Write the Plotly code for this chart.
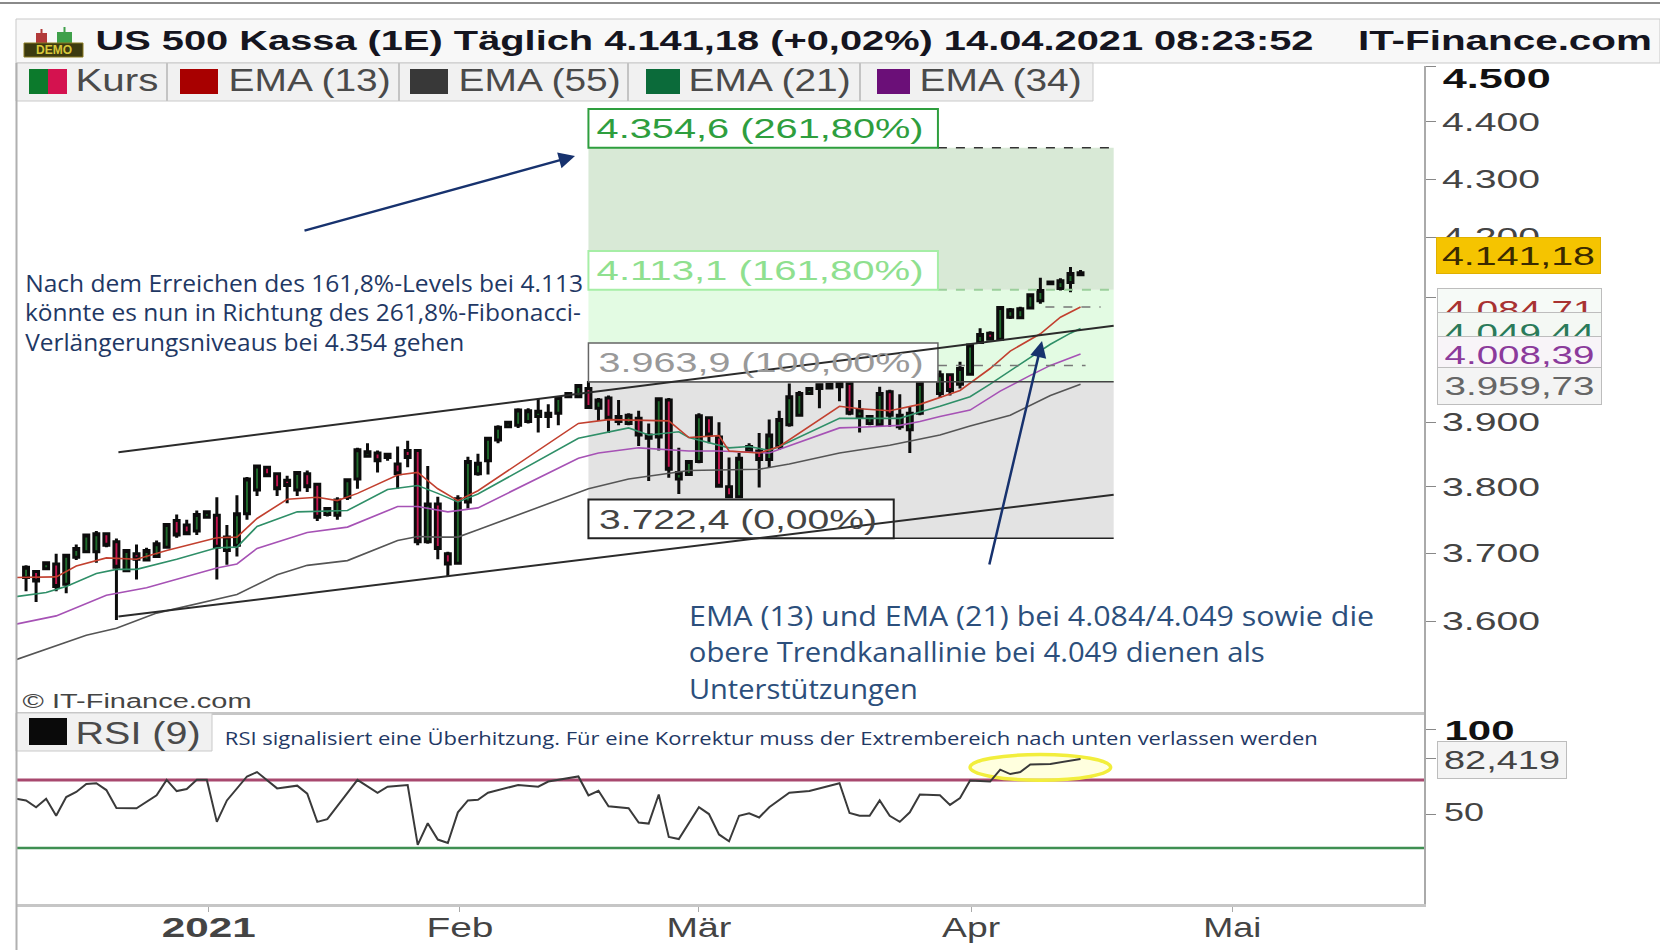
import json
import math
import plotly.graph_objects as go

# ---------- data ----------
bar_open = [3664,3673,3677,3684,3654,3694,3702,3702,3729,3717,
            3674,3699,3690,3695,3709,3749,3742,3733,3754,3757,
            3704,3712,3759,3795,3830,3820,3810,3795,3820,3804,
            3758,3757,3784,3812,3847,3852,3845,3835,3856,3856,
            3717,3774,3699,3685,3777,3820,3840,3872,3893,3895,
            3901,3909,3909,3914,3940,3940,3953,3922,3938,3901,
            3898,3906,3875,3877,3935,3812,3819,3839,3907,3877,
            3800,3785,3855,3855,3842,3862,3896,3911,3945,3953,
            3954,3956,3961,3909,3898,3896,3948,3893,3888,3914,
            3975,3945,3975,3960,3976,4027,4042,4032,4068,4067,
            4083,4095,4123,4115,4125,4138]
bar_high = [3682,3674,3688,3699,3698,3713,3727,3733,3731,3722,
            3705,3713,3708,3719,3744,3758,3750,3764,3763,3784,
            3742,3787,3815,3834,3831,3822,3817,3824,3825,3806,
            3769,3784,3812,3860,3867,3856,3852,3862,3871,3857,
            3832,3785,3702,3787,3846,3851,3877,3895,3902,3922,
            3922,3937,3928,3940,3945,3960,3965,3938,3942,3935,
            3914,3918,3898,3938,3938,3860,3840,3914,3909,3900,
            3845,3852,3867,3883,3904,3918,3961,3949,3954,3961,
            3961,3964,3964,3935,3911,3956,3951,3944,3925,3964,
            4000,3982,3977,3996,4025,4050,4045,4085,4083,4085,
            4107,4133,4127,4132,4151,4146]
bar_low = [3644,3628,3675,3644,3641,3690,3700,3686,3709,3602,
           3673,3661,3689,3694,3707,3723,3728,3727,3752,3661,
           3683,3695,3750,3786,3816,3786,3775,3786,3792,3748,
           3755,3750,3780,3797,3845,3822,3840,3797,3830,3712,
           3714,3691,3665,3684,3767,3817,3819,3867,3891,3891,
           3898,3884,3891,3895,3940,3939,3922,3902,3883,3895,
           3895,3863,3809,3856,3814,3789,3818,3836,3867,3799,
           3784,3784,3852,3799,3829,3857,3893,3910,3943,3922,
           3953,3933,3911,3884,3895,3895,3893,3888,3852,3911,
           3970,3938,3942,3953,3974,4025,4030,4030,4065,4065,
           4082,4090,4122,4112,4109,4136.5]
bar_close = [3679,3659,3686,3651,3697,3707,3727,3729,3712,3679,
             3704,3691,3704,3714,3743,3727,3729,3758,3762,3709,
             3724,3759,3812,3832,3817,3797,3802,3822,3800,3754,
             3767,3780,3811,3857,3854,3840,3850,3820,3845,3717,
             3774,3707,3684,3782,3839,3836,3875,3892,3900,3919,
             3918,3917,3914,3939,3945,3958,3923,3935,3906,3909,
             3911,3880,3880,3937,3827,3822,3839,3910,3880,3801,
             3785,3844,3862,3842,3880,3904,3940,3945,3953,3959,
             3960,3961,3914,3919,3909,3945,3911,3911,3914,3961,
             3995,3975,3950,3985,4023,4040,4032,4084,4080,4082,
             4105,4112,4126,4128,4140,4141.18]

ema13_x = [-1,3,5,8,11,14,19,21,23,26,29,31,33,37,39,41,43,45,55,58,64,66,69,70,73,75,81,83,86,89,93,96,98,101,103,105]
ema13_y = [3664,3665,3681,3693,3691,3704,3723,3724,3752,3781,3784,3779,3790,3818,3822,3797,3779,3794,3898,3904,3902,3876,3879,3855,3852,3862,3925,3921,3918,3928,3950,3985,4013,4041,4068,4084.71]
ema21_x = [-1,2,4,7,9,11,15,19,21,23,27,29,32,36,39,41,43,45,55,60,62,65,66,70,72,74,75,81,83,87,89,91,94,96,99,102,104,105]
ema21_y = [3636,3642,3651,3670,3676,3676,3691,3708,3709,3740,3762,3763,3764,3796,3802,3790,3777,3789,3875,3891,3880,3885,3876,3860,3862,3856,3862,3906,3906,3906,3916,3925,3940,3960,3992,4024,4042,4049.44]
ema34_x = [-1,3,8,12,19,21,23,28,32,37,39,42,45,55,57,61,66,69,74,81,83,87,89,91,94,97,100,102,105]
ema34_y = [3596,3608,3638,3649,3678,3684,3707,3731,3739,3770,3770,3762,3768,3844,3852,3860,3855,3855,3852,3891,3892,3895,3901,3909,3919,3949,3974,3990,4008.39]
ema55_x = [-1,6,9,13,21,25,28,32,37,39,41,43,45,56,60,66,73,76,81,86,91,94,98,100,102,105]
ema55_y = [3545,3580,3590,3612,3639,3668,3682,3689,3719,3725,3724,3724,3735,3797,3812,3825,3827,3835,3852,3864,3880,3894,3911,3927,3942,3959.73]

rsi_x = [-1,0,1,2,3,4,5,6,7,8,9,11,13,14,15,16,17,18,19,20,22,23,25,27,28,29,30,33,35,36,38,39,40,41,42,43,44,45,46,49,51,52,55,56,57,58,60,61,62,63,64,65,67,68,69,70,71,72,73,74,76,78,81,82,83,84,85,86,87,88,89,91,92,93,94,96,97,98,99,100,102,105]
rsi_y = [59.0,58.0,54.0,59.0,49.0,60.0,63.0,67.7,68.1,64.1,53.6,53.4,61.0,70.1,63.5,64.7,70.1,70.1,45.4,58.0,72.1,74.7,65.1,66.7,62.0,45.4,47.0,70.1,62.5,66.1,67.1,31.9,44.6,35.0,33.0,51.0,58.0,58.4,62.5,67.1,66.1,69.1,72.1,61.0,63.7,54.6,53.4,45.0,44.4,61.5,36.5,35.3,54.0,50.0,38.0,34.0,49.0,50.4,48.0,54.0,62.5,63.5,68.1,50.6,49.0,49.0,58.0,49.0,45.4,51.0,61.5,61.0,55.4,59.4,69.7,69.1,76.1,73.5,74.7,79.1,79.5,82.419]

x_tick_pos = [18.2, 43.2, 67, 94.1, 120.1]
x_tick_txt = ["<b>2021</b>", "Feb", "Mär", "Apr", "Mai"]
price_ticks = [4500, 4400, 4300, 4200, 4100, 3900, 3800, 3700, 3600]
price_text = ["", "4.400", "4.300", "4.200", "4.100", "3.900", "3.800", "3.700", "3.600"]
fib_levels = [3722.4, 3963.9, 4113.1, 4354.6]
upper_trend_x, upper_trend_y = [9.2, 108.3], [3853, 4054]
lower_trend_x, lower_trend_y = [9.2, 108.3], [3607, 3788]

note1_lines = ["Nach dem Erreichen des 161,8%-Levels bei 4.113",
               "könnte es nun in Richtung des 261,8%-Fibonacci-",
               "Verlängerungsniveaus bei 4.354 gehen"]
note2_lines = ["EMA (13) und EMA (21) bei 4.084/4.049 sowie die",
               "obere Trendkanallinie bei 4.049 dienen als",
               "Unterstützungen"]
rsi_note = "RSI signalisiert eine Überhitzung. Für eine Korrektur muss der Extrembereich nach unten verlassen werden"

# ---------- layout helpers ----------
W, H = 1660, 950
PL, PR = 16.5, 1424
XMIN, XMAX = -0.95, 139.2
PRICE_MIN, PRICE_MAX = 3472, 4500
RSI_MIN, RSI_MAX = -2.6, 110.3
FIB_X0, FIB_X1 = 56, 108.3

def fx(p): return p / W
def fy(p): return 1 - p / H

FONT = "Liberation Sans"
NOTE = "Open Sans"
NAVY = "#1f3864"

# widths (px) that the stretched text of the reference occupies
text_widths = {
    "US 500 Kassa (1E) Täglich 4.141,18 (+0,02%) 14.04.2021 08:23:52": 1218,
    "IT-Finance.com": 294, "Kurs": 83, "EMA (13)": 162, "EMA (55)": 162,
    "EMA (21)": 162, "EMA (34)": 162, "RSI (9)": 125,
    "4.500": 108, "4.400": 98, "4.300": 98, "4.200": 98, "4.100": 98,
    "3.900": 98, "3.800": 98, "3.700": 98, "3.600": 98,
    "4.141,18": 153, "4.084,71": 150, "4.049,44": 150, "4.008,39": 150, "3.959,73": 150,
    "100": 70, "50": 40, "82,419": 116,
    "4.354,6 (261,80%)": 327, "4.113,1 (161,80%)": 327,
    "3.963,9 (100,00%)": 325, "3.722,4 (0,00%)": 278,
    "2021": 94, "Feb": 67, "Mär": 65, "Apr": 58, "Mai": 58,
    "© IT-Finance.com": 229,
    rsi_note: 1093,
    note1_lines[0]: 558, note1_lines[1]: 556, note1_lines[2]: 439,
    note2_lines[0]: 685, note2_lines[1]: 576, note2_lines[2]: 229,
}

fig = go.Figure()

fig.add_trace(go.Candlestick(
    x=list(range(len(bar_open))), open=bar_open, high=bar_high, low=bar_low, close=bar_close,
    xaxis="x", yaxis="y", whiskerwidth=0,
    increasing=dict(fillcolor="#1f6b2c", line=dict(color="#0c0c0c", width=3)),
    decreasing=dict(fillcolor="#c4134f", line=dict(color="#0c0c0c", width=3)),
    showlegend=False))
for xs, ys, col in [(ema55_x, ema55_y, "#555555"), (ema34_x, ema34_y, "#a652b5"),
                    (ema21_x, ema21_y, "#2f8f68"), (ema13_x, ema13_y, "#c2402f")]:
    fig.add_trace(go.Scatter(x=xs, y=ys, mode="lines", line=dict(color=col, width=1.6),
                             xaxis="x", yaxis="y", showlegend=False))
fig.add_trace(go.Scatter(x=rsi_x, y=rsi_y, mode="lines", line=dict(color="#3a3a3a", width=2),
                         xaxis="x2", yaxis="y2", showlegend=False))

shapes = []
def rect_px(x0, y0, x1, y1, fill, line="rgba(0,0,0,0)", lw=1):
    shapes.append(dict(type="rect", xref="paper", yref="paper", x0=fx(x0), x1=fx(x1), y0=fy(y0), y1=fy(y1),
                       fillcolor=fill, line=dict(color=line, width=lw), layer="above"))
def line_px(x0, y0, x1, y1, col, lw=1):
    shapes.append(dict(type="line", xref="paper", yref="paper", x0=fx(x0), x1=fx(x1), y0=fy(y0), y1=fy(y1),
                       line=dict(color=col, width=lw), layer="above"))

# page furniture
line_px(0, 3, W, 3, "#8a8a8a", 2)
rect_px(16, 19, W, 63, "#f8f8f8", "#c9c9c9", 1)
rect_px(16, 63, 1093, 101, "#f1f1f1", "#c9c9c9", 1)
for sx in [167, 399, 628, 860]:
    line_px(sx, 63, sx, 101, "#c4c4c4", 2)
rect_px(29, 69, 48, 94, "#0c7a2c")
rect_px(48, 69, 67, 94, "#d4124f")
rect_px(180, 69, 218, 94, "#a80000")
rect_px(410, 69, 448, 94, "#383838")
rect_px(646, 69, 680, 94, "#0b6b3a")
rect_px(877, 69, 910, 94, "#6b0f78")
rect_px(16, 713, 212, 751, "#f1f1f1", "#c9c9c9", 1)
rect_px(29, 718, 67, 745, "#0a0a0a")
line_px(16.5, 63, 16.5, 950, "#b0b0b0", 2)
# demo icon
rect_px(36, 33, 47, 43, "#b23a3a"); line_px(41.5, 29, 41.5, 43, "#b23a3a", 2)
rect_px(57, 32, 72, 43, "#3fa04a"); line_px(64.5, 27, 64.5, 43, "#3fa04a", 2)
rect_px(24, 43, 83, 57, "#3c3a10", "#8a7a20", 1)

# Fibonacci zones, below the candles
zones = [(fib_levels[0], fib_levels[1], "#e3e3e3"),
         (fib_levels[1], fib_levels[2], "#e3fbe3"),
         (fib_levels[2], fib_levels[3], "#d8e9d6")]
for lo, hi, col in zones:
    shapes.append(dict(type="rect", xref="x", yref="y", x0=FIB_X0, x1=FIB_X1, y0=lo, y1=hi,
                       fillcolor=col, line=dict(width=0), layer="below"))
def level_line(x0, x1, val, col, dash="solid", lw=1.5):
    shapes.append(dict(type="line", xref="x", yref="y", x0=x0, x1=x1, y0=val, y1=val,
                       line=dict(color=col, width=lw, dash=dash), layer="above"))
level_line(90.8, FIB_X1, fib_levels[3], "#333333", "dash")
level_line(90.8, FIB_X1, fib_levels[2], "#9ccf9c", "dash", 2)
level_line(FIB_X0, FIB_X1, fib_levels[1], "#444444")
level_line(86.4, FIB_X1, fib_levels[0], "#222222")
level_line(90.8, 105.5, 3990, "#777777", "dash")
level_line(101.5, 107, 4084.71, "#777777", "dash")

# label boxes (above the candles), then the trend lines over them
BOX = 1.0157
for lvl, x1, col, lw in [(fib_levels[3], 90.8, "#2e9e3e", 2), (fib_levels[2], 90.8, "#a6eea6", 2),
                         (fib_levels[1], 90.8, "#666666", 1.5), (fib_levels[0], 86.4, "#222222", 2)]:
    shapes.append(dict(type="rect", xref="x", yref="y", x0=FIB_X0, x1=x1, y0=lvl, y1=lvl * BOX,
                       fillcolor="white", line=dict(color=col, width=lw), layer="above"))
for xs, ys in [(upper_trend_x, upper_trend_y), (lower_trend_x, lower_trend_y)]:
    shapes.append(dict(type="line", xref="x", yref="y", x0=xs[0], x1=xs[1], y0=ys[0], y1=ys[1],
                       line=dict(color="#2b2b2b", width=2), layer="above"))

# RSI levels and highlight
shapes.append(dict(type="line", xref="x2 domain", yref="y2", x0=0, x1=1, y0=70, y1=70,
                   line=dict(color="#a8486e", width=3), layer="below"))
shapes.append(dict(type="line", xref="x2 domain", yref="y2", x0=0, x1=1, y0=30, y1=30,
                   line=dict(color="#3f8f52", width=2.5), layer="below"))
shapes.append(dict(type="circle", xref="x2", yref="y2", x0=94, x1=108, y0=69.9, y1=85,
                   fillcolor="rgba(255,255,190,0.5)", line=dict(color="#f2ee3c", width=3.5), layer="below"))

ann = []
def stretched(text, cx, cy, size, color, family=FONT, **kw):
    ann.append(dict(text=text, xref="paper", yref="paper", x=fx(cx), y=fy(cy), xanchor="center", yanchor="middle",
                    showarrow=False, font=dict(family=family, size=size, color=color), **kw))
def tag(text, cx, cy, w, h, size, color, bg, border="#bdbdbd"):
    stretched(text, cx, cy, size, color, width=w, height=h, bgcolor=bg, bordercolor=border, borderwidth=1, borderpad=0)
def note_lines(lines, left, ys, size, color):
    for line, y in zip(lines, ys):
        stretched(line, left + text_widths[line] / 2, y, size, color, family=NOTE)
def arrow(x0, y0, x1, y1):
    ann.append(dict(text="", xref="paper", yref="paper", axref="pixel", ayref="pixel", x=fx(x1), y=fy(y1),
                    ax=x0 - x1, ay=y0 - y1, showarrow=True, arrowhead=2, arrowsize=1.3, arrowwidth=2.5,
                    arrowcolor="#17326e"))

stretched("<b>US 500 Kassa (1E) Täglich 4.141,18 (+0,02%) 14.04.2021 08:23:52</b>", 704, 41, 28, "#15151f")
stretched("<b>IT-Finance.com</b>", 1505, 41, 28, "#15151f")
stretched("Kurs", 117, 81, 31, "#4a4a4a")
stretched("EMA (13)", 309, 81, 31, "#4a4a4a")
stretched("EMA (55)", 539, 81, 31, "#4a4a4a")
stretched("EMA (21)", 769, 81, 31, "#4a4a4a")
stretched("EMA (34)", 1000, 81, 31, "#4a4a4a")
stretched("RSI (9)", 138, 733, 31, "#4a4a4a")
stretched("<b>DEMO</b>", 53.5, 50, 12, "#d8c83a")
stretched("© IT-Finance.com", 137, 701, 20, "#444444")
stretched("<b>4.500</b>", 1497, 79, 27, "#111111")
stretched("<b>100</b>", 1479, 731, 27, "#111111")
stretched("50", 1464, 812, 25, "#444444")

stretched("4.354,6 (261,80%)", 760, 129, 27, "#2e9e3e")
stretched("4.113,1 (161,80%)", 760, 271, 27, "#8fe08f")
stretched("3.963,9 (100,00%)", 761, 363, 27, "#999999")
stretched("3.722,4 (0,00%)", 737.5, 520, 27, "#444444")

tag("4.084,71", 1519, 309.5, 163, 41, 25, "#a83232", "#f6faf7")
tag("4.049,44", 1519, 332.5, 163, 39, 25, "#2a7a5a", "#f4f8f4")
tag("4.008,39", 1519, 355, 163, 36, 25, "#8b3a9b", "#f8f4f8")
tag("3.959,73", 1519, 386, 163, 36, 25, "#666666", "#f4f4f4")
tag("4.141,18", 1518.5, 255.5, 163, 35, 25, "#3a2a00", "#f5c400", "#e0b000")
tag("82,419", 1502, 760, 128, 36, 25, "#444444", "#f4f4f4")

note_lines(note1_lines, 25, [283, 312, 342], 23, NAVY)
note_lines(note2_lines, 689, [615, 651, 688], 28, "#2c4f7c")
stretched(rsi_note, 771.5, 738, 19, NAVY, family=NOTE)
arrow(303, 231, 575, 156)
arrow(989, 566, 1042, 341)

axis_common = dict(showgrid=False, zeroline=False)
fig.update_layout(
    width=W, height=H, margin=dict(l=0, r=0, t=0, b=0), autosize=False,
    paper_bgcolor="white", plot_bgcolor="white", showlegend=False, hovermode=False,
    shapes=shapes, annotations=ann,
    xaxis=dict(domain=[fx(PL), fx(PR)], range=[XMIN, XMAX], anchor="y", rangeslider=dict(visible=False),
               showticklabels=False, ticks="", showline=True, linecolor="#c6c6c6", linewidth=3, **axis_common),
    yaxis=dict(domain=[fy(711.5), fy(66)], type="log", range=[math.log10(PRICE_MIN), math.log10(PRICE_MAX)],
               side="right", anchor="x", tickvals=price_ticks, ticktext=price_text, ticks="outside", ticklen=10,
               tickcolor="#888888", showline=True, linecolor="#aaaaaa", linewidth=2, ticklabelstandoff=1,
               tickfont=dict(family=FONT, size=25, color="#444444"), **axis_common),
    xaxis2=dict(domain=[fx(PL), fx(PR)], range=[XMIN, XMAX], anchor="y2", tickvals=x_tick_pos, ticktext=x_tick_txt,
                ticks="outside", ticklen=5, tickcolor="#aaaaaa", showline=True, linecolor="#c6c6c6", linewidth=3,
                ticklabelstandoff=-8, tickfont=dict(family=FONT, size=28, color="#444444"), **axis_common),
    yaxis2=dict(domain=[fy(903.5), fy(711.5)], range=[RSI_MIN, RSI_MAX], side="right", anchor="x2",
                tickvals=[100, 82.419, 50], ticktext=["", "", ""], ticks="outside", ticklen=10, tickcolor="#888888",
                showline=True, linecolor="#aaaaaa", linewidth=2, **axis_common),
)

post = ("document.body.style.margin='0';var w=" + json.dumps(text_widths, ensure_ascii=False) + ";"
        "document.querySelectorAll('svg text').forEach(function(t){var k=t.textContent.trim();"
        "if(w[k]){t.setAttribute('textLength',w[k]);t.setAttribute('lengthAdjust','spacingAndGlyphs');}});")
fig.write_html("out.html", post_script=post, config=dict(displayModeBar=False))
